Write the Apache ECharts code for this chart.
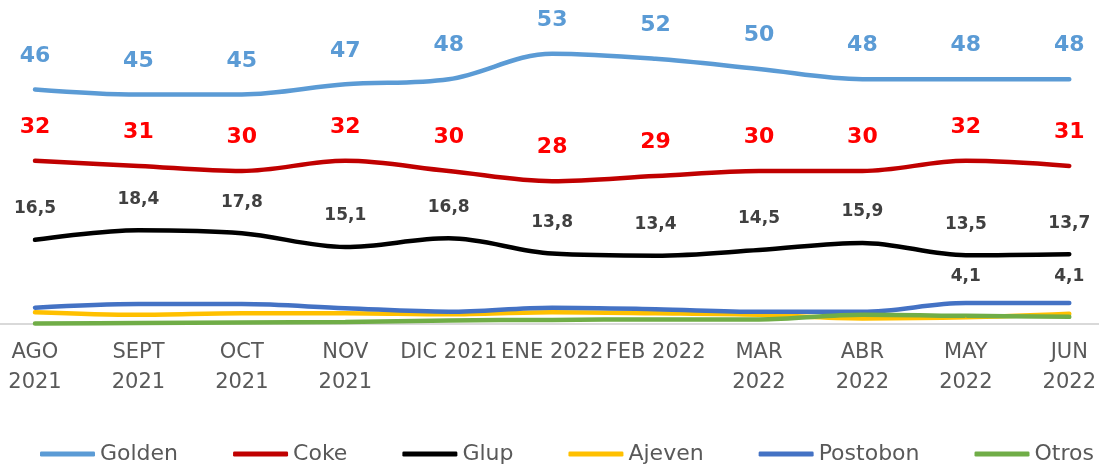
<!DOCTYPE html>
<html>
<head>
<meta charset="utf-8">
<script src="https://cdn.jsdelivr.net/npm/echarts@6/dist/echarts.min.js"></script>
<style>
  html, body { margin: 0; padding: 0; background: #fff; }
  #chart { width: 1099px; height: 467px; }
</style>
</head>
<body>
<div id="chart"></div>
<script>
// datos
var meses = ['AGO\n2021', 'SEPT\n2021', 'OCT\n2021', 'NOV\n2021', 'DIC 2021', 'ENE 2022', 'FEB 2022', 'MAR\n2022', 'ABR\n2022', 'MAY\n2022', 'JUN\n2022'];
var golden = [46, 45, 45, 47, 48, 53, 52, 50, 48, 48, 48];
var coke = [32, 31, 30, 32, 30, 28, 29, 30, 30, 32, 31];
var glup = [16.5, 18.4, 17.8, 15.1, 16.8, 13.8, 13.4, 14.5, 15.9, 13.5, 13.7];
var ajeven = [2.3, 1.8, 2.1, 2.1, 1.9, 2.3, 2.1, 1.8, 1.1, 1.3, 2.0];
var postobon = [3.2, 3.9, 3.9, 3.1, 2.4, 3.2, 2.9, 2.4, 2.4, 4.1, 4.1];
var otros = [0.1, 0.2, 0.3, 0.4, 0.7, 0.8, 0.9, 0.9, 1.8, 1.6, 1.4];
// puntos de Postobon con etiqueta
var postobonEtiquetas = [9, 10];

(function() {
  var myChart = echarts.init(document.getElementById('chart'));
  var fuente = "'DejaVu Sans', sans-serif";

  function coma(p) {
    return String(p.value).replace('.', ',');
  }

  function serie(nombre, datos, color, etiqueta) {
    return {
      name: nombre,
      type: 'line',
      smooth: 0.35,
      symbol: 'circle',
      symbolSize: 1,
      showSymbol: true,
      data: datos,
      lineStyle: { color: color, width: 4.5, cap: 'round' },
      itemStyle: { color: color },
      label: etiqueta,
      labelLayout: { hideOverlap: false },
      emphasis: { disabled: true },
      z: 2
    };
  }

  var labelGlup = {
    show: true,
    position: 'top',
    distance: 22,
    color: '#404040',
    fontSize: 17,
    fontWeight: 'bold',
    fontFamily: fuente,
    formatter: coma
  };

  var postobonSerie = serie('Postobon', postobon.map(function(v, i) {
    if (postobonEtiquetas.indexOf(i) >= 0) {
      return { value: v, label: { show: true } };
    }
    return v;
  }), '#4472C4', {
    show: false,
    position: 'top',
    distance: 18,
    color: '#404040',
    fontSize: 17,
    fontWeight: 'bold',
    fontFamily: fuente,
    formatter: coma
  });

  var option = {
    animation: false,
    grid: {
      left: 35,
      right: 28,
      top: 18,
      bottom: 143
    },
    legend: {
      left: 35,
      bottom: -3,
      itemWidth: 55,
      itemHeight: 5,
      itemGap: 55,
      icon: 'roundRect',
      textStyle: {
        color: '#595959',
        fontSize: 22,
        fontFamily: fuente
      },
      data: ['Golden', 'Coke', 'Glup', 'Ajeven', 'Postobon', 'Otros']
    },
    xAxis: {
      type: 'category',
      boundaryGap: false,
      data: meses,
      axisTick: { show: false },
      axisLine: { show: false },
      axisLabel: {
        color: '#595959',
        fontSize: 21,
        fontFamily: fuente,
        lineHeight: 30,
        margin: 14,
        interval: 0
      }
    },
    yAxis: {
      type: 'value',
      min: 0,
      max: 60,
      show: false,
      splitLine: { show: false }
    },
    series: [
      serie('Golden', golden, '#5B9BD5', {
        show: true, position: 'top', distance: 22,
        color: '#5B9BD5', fontSize: 22, fontWeight: 'bold', fontFamily: fuente
      }),
      serie('Coke', coke, '#C00000', {
        show: true, position: 'top', distance: 22,
        color: '#FF0000', fontSize: 22, fontWeight: 'bold', fontFamily: fuente
      }),
      serie('Glup', glup, '#000000', labelGlup),
      serie('Ajeven', ajeven, '#FFC000', { show: false }),
      postobonSerie,
      serie('Otros', otros, '#70AD47', { show: false })
    ]
  };
  myChart.setOption(option);

  // linea del eje a todo el ancho
  var y0 = myChart.convertToPixel({ yAxisIndex: 0 }, 0);
  myChart.setOption({
    graphic: [{
      type: 'line',
      shape: { x1: 0, y1: y0, x2: 1099, y2: y0 },
      style: { stroke: '#d9d9d9', lineWidth: 2 },
      z: 0
    }]
  });

  window.addEventListener('resize', function() {
    myChart.resize();
  });
})();
</script>
</body>
</html>
